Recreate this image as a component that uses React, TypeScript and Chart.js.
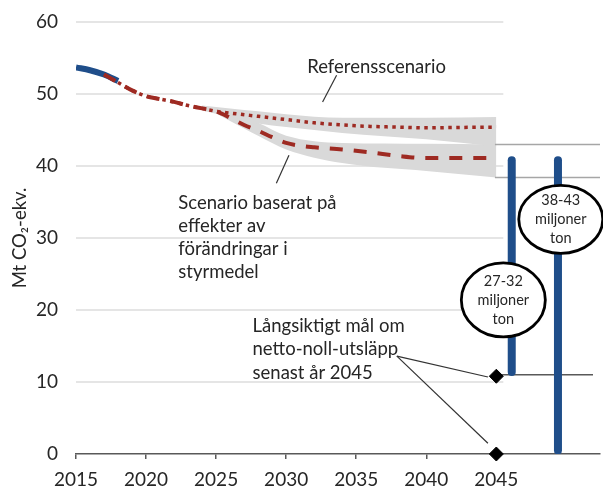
import React, { useEffect, useRef } from 'react';
import { Chart, registerables } from 'chart.js';

Chart.register(...registerables);

const FONT = 'Lato, "Open Sans", "DejaVu Sans", sans-serif';
const TEXT = '#262626';
const RED = '#9e2a22';
const BLUE = '#1f4e8a';
const BAND = '#d9d9d9';
const GRID = '#dcdcdc';

// ---- data ----
const historyYears = [2015, 2016, 2017, 2018];
const historyValues = [53.7, 53.3, 52.7, 51.8];

const refYears = [2017, 2018, 2019, 2020, 2021, 2022, 2023, 2024, 2025, 2026, 2028, 2030, 2032, 2034, 2036, 2038, 2040, 2042, 2045];
const refValues = [52.7, 51.6, 50.5, 49.7, 49.3, 48.9, 48.4, 48.0, 47.6, 47.35, 46.9, 46.45, 46.0, 45.7, 45.5, 45.4, 45.3, 45.35, 45.4];

const scenarioYears = [2017, 2018, 2019, 2020, 2021, 2022, 2023, 2024, 2025, 2026, 2027, 2028, 2029, 2030, 2031, 2032, 2034, 2036, 2038, 2040, 2045];
const scenarioValues = [52.7, 51.6, 50.5, 49.7, 49.3, 48.9, 48.4, 48.0, 47.6, 46.7, 45.7, 44.9, 44.0, 43.2, 42.8, 42.6, 42.3, 41.9, 41.4, 41.1, 41.1];

const refBandYears = [2024, 2026, 2028, 2030, 2034, 2040, 2045];
const refBandUpper = [48.4, 48.0, 47.6, 47.2, 46.7, 46.7, 46.8];
const refBandLower = [47.7, 46.8, 45.9, 45.4, 44.6, 43.7, 42.7];

const scenBandYears = [2025, 2027, 2028, 2030, 2034, 2040, 2045];
const scenBandUpper = [47.8, 46.8, 46.0, 44.2, 43.2, 43.1, 43.0];
const scenBandLower = [47.3, 45.2, 44.2, 42.3, 40.4, 39.3, 38.4];

const arrowYears = [2046.1, 2049.4];
const arrowLow = [11.4, 0.5];
const arrowHigh = [40.8, 40.8];

const targetYears = [2045, 2045];
const targetValues = [10.8, 0];

const rangeLineValues = [43.0, 38.4];
const rangeLineStart = 2044.9;
const goalLineValue = 11.0;
const goalLineYears = [2045, 2051.9];

const gridValues = [10, 20, 30, 40, 50, 60];
const gridEndYear = 2045.5;
const xTickMaxYear = 2045;

const yTitle = 'Mt CO\u2082-ekv.';

const textLabels = [
  { lines: ['Referensscenario'], x: 2031.5, y: 53.75 },
  { lines: ['Scenario baserat på', 'effekter av', 'förändringar i', 'styrmedel'], x: 2022.3, y: 34.9 },
  { lines: ['Långsiktigt mål om', 'netto-noll-utsläpp', 'senast år 2045'], x: 2027.6, y: 17.75 },
];

const leaderLines = [
  [2033.6, 52.6, 2032.6, 48.9],
  [2030.2, 41.5, 2029.3, 37.6],
  [2037.9, 13.6, 2044.4, 10.7],
  [2037.9, 13.6, 2044.4, 1.5],
];

const bubbles = [
  { x: 2049.6, y: 32.6, rx: 42, ry: 34, lines: ['38-43', 'miljoner', 'ton'] },
  { x: 2045.5, y: 21.4, rx: 42, ry: 37, lines: ['27-32', 'miljoner', 'ton'] },
];

const pts = (xs: number[], ys: number[]) => xs.map((x, i) => ({ x, y: ys[i] }));

const annotationPlugin = {
  id: 'annotations',
  beforeDatasetsDraw(chart: any) {
    const { ctx, scales } = chart;
    const x = scales.x;
    const y = scales.y;
    ctx.save();
    ctx.strokeStyle = GRID;
    ctx.lineWidth = 1.5;
    gridValues.forEach((v) => {
      const py = y.getPixelForValue(v);
      ctx.beginPath();
      ctx.moveTo(x.getPixelForValue(2015), py);
      ctx.lineTo(x.getPixelForValue(gridEndYear), py);
      ctx.stroke();
    });
    ctx.restore();
  },
  afterDatasetsDraw(chart: any) {
    const { ctx, scales } = chart;
    const x = scales.x;
    const y = scales.y;
    ctx.save();
    ctx.strokeStyle = '#333';
    ctx.lineWidth = 1.2;
    leaderLines.forEach(([x1, y1, x2, y2]) => {
      ctx.beginPath();
      ctx.moveTo(x.getPixelForValue(x1), y.getPixelForValue(y1));
      ctx.lineTo(x.getPixelForValue(x2), y.getPixelForValue(y2));
      ctx.stroke();
    });
    ctx.fillStyle = TEXT;
    ctx.font = `18.5px ${FONT}`;
    ctx.textAlign = 'left';
    ctx.textBaseline = 'middle';
    textLabels.forEach((l) => {
      const px = x.getPixelForValue(l.x);
      const py = y.getPixelForValue(l.y);
      l.lines.forEach((t, i) => ctx.fillText(t, px, py + i * 23.2));
    });
    bubbles.forEach((b) => {
      const cx = x.getPixelForValue(b.x);
      const cy = y.getPixelForValue(b.y);
      ctx.beginPath();
      ctx.ellipse(cx, cy, b.rx, b.ry, 0, 0, Math.PI * 2);
      ctx.fillStyle = '#ffffff';
      ctx.fill();
      ctx.lineWidth = 2.8;
      ctx.strokeStyle = '#000';
      ctx.stroke();
      ctx.fillStyle = TEXT;
      ctx.font = `14.5px ${FONT}`;
      ctx.textAlign = 'center';
      ctx.textBaseline = 'middle';
      b.lines.forEach((t, i) => ctx.fillText(t, cx, cy + (i - 1) * 19));
    });
    ctx.restore();
  },
};

const zeroPad = (s: any) => {
  s.paddingTop = 0;
  s.paddingBottom = 0;
  s.paddingLeft = 0;
  s.paddingRight = 0;
};

export default function App() {
  const ref = useRef<HTMLCanvasElement | null>(null);
  useEffect(() => {
    if (!ref.current) return;
    Chart.defaults.font.family = FONT;
    const lineBase = { pointRadius: 0, fill: false, cubicInterpolationMode: 'monotone' as const };
    const bandBase = {
      pointRadius: 0,
      borderWidth: 0,
      borderColor: 'transparent',
      backgroundColor: BAND,
      cubicInterpolationMode: 'monotone' as const,
      order: 20,
    };
    const chart = new Chart(ref.current, {
      type: 'line',
      data: {
        datasets: [
          { ...bandBase, data: pts(refBandYears, refBandUpper), fill: '+1' },
          { ...bandBase, data: pts(refBandYears, refBandLower), fill: false },
          { ...bandBase, data: pts(scenBandYears, scenBandUpper), fill: '+1' },
          { ...bandBase, data: pts(scenBandYears, scenBandLower), fill: false },
          { ...lineBase, data: pts(historyYears, historyValues), borderColor: BLUE, borderWidth: 6, order: 6 },
          { ...lineBase, data: pts(refYears, refValues), borderColor: RED, borderWidth: 3.5, borderDash: [3.5, 4.5], order: 5 },
          { ...lineBase, data: pts(scenarioYears, scenarioValues), borderColor: RED, borderWidth: 4, borderDash: [13, 11], order: 5 },
          ...rangeLineValues.map((v) => ({
            ...lineBase,
            data: [{ x: rangeLineStart, y: v }, { x: 2052.4, y: v }],
            borderColor: '#a6a6a6',
            borderWidth: 1.5,
            order: 4,
            clip: false as any,
          })),
          {
            ...lineBase,
            data: goalLineYears.map((x) => ({ x, y: goalLineValue })),
            borderColor: '#595959',
            borderWidth: 1.5,
            order: 4,
          },
          ...arrowYears.map((x, i) => ({
            ...lineBase,
            cubicInterpolationMode: 'default' as const,
            data: [{ x, y: arrowLow[i] }, { x, y: arrowHigh[i] }],
            borderColor: BLUE,
            borderWidth: 8,
            borderCapStyle: 'round' as const,
            order: 3,
          })),
          {
            data: pts(targetYears, targetValues),
            showLine: false,
            pointStyle: 'rectRot' as const,
            pointRadius: 7,
            pointBackgroundColor: '#000',
            pointBorderColor: '#000',
            pointBorderWidth: 1,
            order: 1,
            clip: false as any,
          },
        ] as any,
      },
      options: {
        animation: false,
        responsive: true,
        maintainAspectRatio: false,
        layout: { autoPadding: false, padding: { top: 22, right: 3, left: 0, bottom: 0 } },
        plugins: { legend: { display: false }, tooltip: { enabled: false } },
        scales: {
          x: {
            type: 'linear',
            min: 2015,
            max: 2052.4,
            afterFit: (s: any) => {
              s.height = 33;
              zeroPad(s);
            },
            afterBuildTicks: (s: any) => {
              s.ticks = s.ticks.filter((t: any) => t.value <= xTickMaxYear && Number.isInteger(t.value));
            },
            ticks: {
              stepSize: 5,
              color: TEXT,
              font: { size: 19 },
              padding: 9,
              maxRotation: 0,
              autoSkip: false,
              callback: (v: any) => String(v),
            },
            grid: { drawOnChartArea: false, drawTicks: true, tickLength: 5, color: '#595959', lineWidth: 1.5 },
            border: { display: true, color: '#595959', width: 1.5 },
          },
          y: {
            min: 0,
            max: 60,
            afterFit: (s: any) => {
              s.width = 76;
              zeroPad(s);
            },
            ticks: { stepSize: 10, color: TEXT, font: { size: 19 }, padding: 18 },
            grid: { display: false, drawTicks: false },
            border: { display: false },
            title: { display: true, text: yTitle, color: TEXT, font: { size: 18.5 }, padding: { top: 9, bottom: 0 } },
          },
        },
      } as any,
      plugins: [annotationPlugin],
    });
    return () => chart.destroy();
  }, []);
  return (
    <div style={{ position: 'absolute', left: 0, top: 0, width: 603, height: 487, background: '#fff' }}>
      <canvas ref={ref} />
    </div>
  );
}
